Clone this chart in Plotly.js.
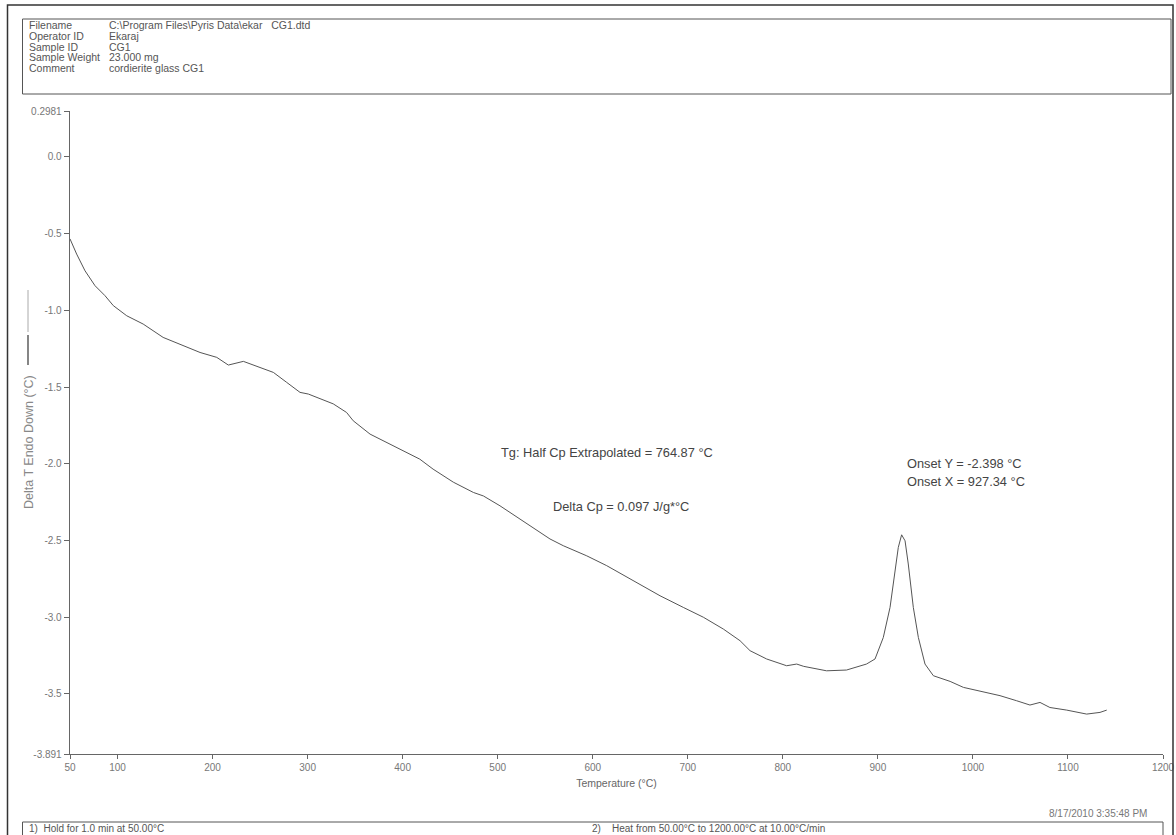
<!DOCTYPE html>
<html>
<head>
<meta charset="utf-8">
<script src="https://cdn.plot.ly/plotly-3.0.1.min.js"></script>
<style>
html,body{margin:0;padding:0;background:#fff;}
#chart{width:1176px;height:835px;}
</style>
</head>
<body>
<div id="chart"></div>
<script>
// ---- data ----
const temperatureC = [50, 57, 65.8, 76.3, 86.8, 95.6, 109.7, 127, 148, 165.7, 186.8, 204.4, 216.6, 232.4, 250, 264, 278, 292, 300.8, 309.6, 327, 341, 348, 365.7, 383, 404, 418, 432, 453.3, 474.4, 485, 502.4, 523.5, 544.5, 555, 569, 593.7, 614.7, 642.7, 670.8, 695.3, 716.4, 737.4, 755, 765.5, 783, 804, 814.6, 822, 835.6, 846, 867, 888, 897, 905.7, 912.8, 918, 921.5, 925, 928.6, 932, 937.3, 942.6, 949.6, 958.4, 976, 990, 1011, 1028.5, 1046, 1060, 1070.6, 1081, 1098.7, 1119.7, 1133.7, 1140.8];
const deltaT = [-0.535, -0.634, -0.743, -0.84, -0.905, -0.97, -1.036, -1.09, -1.177, -1.22, -1.275, -1.307, -1.357, -1.333, -1.373, -1.405, -1.47, -1.535, -1.546, -1.568, -1.61, -1.666, -1.72, -1.807, -1.861, -1.926, -1.97, -2.035, -2.12, -2.187, -2.21, -2.274, -2.36, -2.448, -2.49, -2.534, -2.6, -2.664, -2.762, -2.86, -2.936, -3.0, -3.077, -3.153, -3.218, -3.272, -3.316, -3.305, -3.32, -3.338, -3.349, -3.344, -3.305, -3.272, -3.132, -2.936, -2.697, -2.545, -2.463, -2.502, -2.653, -2.936, -3.132, -3.305, -3.381, -3.418, -3.457, -3.485, -3.511, -3.544, -3.572, -3.555, -3.588, -3.605, -3.631, -3.62, -3.605];

const xTickVals = [50, 100, 200, 300, 400, 500, 600, 700, 800, 900, 1000, 1100, 1200];
const xTickText = ['50', '100', '200', '300', '400', '500', '600', '700', '800', '900', '1000', '1100', '1200'];
const yTickVals = [0.2981, 0.0, -0.5, -1.0, -1.5, -2.0, -2.5, -3.0, -3.5, -3.891];
const yTickText = ['0.2981', '0.0', '-0.5', '-1.0', '-1.5', '-2.0', '-2.5', '-3.0', '-3.5', '-3.891'];

const headerLabels = ['Filename', 'Operator ID', 'Sample ID', 'Sample Weight', 'Comment'];
const headerValues = ['C:\\Program Files\\Pyris Data\\ekar   CG1.dtd', 'Ekaraj', 'CG1', '23.000 mg', 'cordierite glass CG1'];

// ---- layout helpers (pixel -> paper) ----
const W = 1176, H = 835;
const L = 70, R = 13, T = 111, B = 81;
const PW = W - L - R, PH = H - T - B;
const px = v => (v - L) / PW;
const py = v => (H - B - v) / PH;

const txt = '#555';
const FONT = 'Liberation Sans, Arial, sans-serif';

const annotations = [];
headerLabels.forEach((lab, i) => {
  const y = 25 + i * 10.8;
  annotations.push({xref:'paper', yref:'paper', x:px(27), y:py(y), text:lab, showarrow:false, xanchor:'left', yanchor:'middle', font:{family:FONT, size:10.5, color:txt}});
  annotations.push({xref:'paper', yref:'paper', x:px(107), y:py(y), text:headerValues[i], showarrow:false, xanchor:'left', yanchor:'middle', font:{family:FONT, size:10.5, color:txt}});
});
annotations.push(
  {xref:'paper', yref:'paper', x:px(607), y:py(452), text:'Tg: Half Cp Extrapolated = 764.87 °C', showarrow:false, xanchor:'center', yanchor:'middle', font:{family:FONT, size:12.8, color:'#444'}},
  {xref:'paper', yref:'paper', x:px(621), y:py(506), text:'Delta Cp = 0.097 J/g*°C', showarrow:false, xanchor:'center', yanchor:'middle', font:{family:FONT, size:12.8, color:'#444'}},
  {xref:'paper', yref:'paper', x:px(905), y:py(463), text:'Onset Y = -2.398 °C', showarrow:false, xanchor:'left', yanchor:'middle', font:{family:FONT, size:12.8, color:'#444'}},
  {xref:'paper', yref:'paper', x:px(905), y:py(482), text:'Onset X = 927.34 °C', showarrow:false, xanchor:'left', yanchor:'middle', font:{family:FONT, size:12.8, color:'#444'}},
  {xref:'paper', yref:'paper', x:px(1149), y:py(813), text:'8/17/2010 3:35:48 PM', showarrow:false, xanchor:'right', yanchor:'middle', font:{family:FONT, size:10, color:'#777'}},
  {xref:'paper', yref:'paper', x:px(27), y:py(829), text:'1)  Hold for 1.0 min at 50.00°C', showarrow:false, xanchor:'left', yanchor:'middle', font:{family:FONT, size:10, color:txt}},
  {xref:'paper', yref:'paper', x:px(590), y:py(829), text:'2)    Heat from 50.00°C to 1200.00°C at 10.00°C/min', showarrow:false, xanchor:'left', yanchor:'middle', font:{family:FONT, size:10, color:txt}},
  {xref:'paper', yref:'paper', x:px(29), y:py(442), text:'Delta T Endo Down (°C)', textangle:-90, showarrow:false, xanchor:'center', yanchor:'middle', font:{family:FONT, size:12.5, color:'#888'}}
);

const shapes = [
  // outer frame
  {type:'rect', xref:'paper', yref:'paper', x0:px(7.5), x1:px(1173), y0:py(5), y1:py(836), line:{color:'#333', width:1.5}},
  // header box
  {type:'rect', xref:'paper', yref:'paper', x0:px(22.5), x1:px(1171), y0:py(19), y1:py(94), line:{color:'#555', width:1}},
  // method box
  {type:'rect', xref:'paper', yref:'paper', x0:px(22.5), x1:px(1163), y0:py(822), y1:py(840), line:{color:'#555', width:1}},
  // legend line beside y title
  {type:'line', xref:'paper', yref:'paper', x0:px(28), x1:px(28), y0:py(290), y1:py(332), line:{color:'#aaa', width:1}},
  {type:'line', xref:'paper', yref:'paper', x0:px(28), x1:px(28), y0:py(335), y1:py(365), line:{color:'#444', width:1.3}}
];

const trace = {
  x: temperatureC,
  y: deltaT,
  type: 'scatter',
  mode: 'lines',
  line: {color: '#555', width: 1},
  hoverinfo: 'x+y',
  showlegend: false
};

const layout = {
  width: W, height: H,
  margin: {l: L, r: R, t: T, b: B, pad: 0},
  paper_bgcolor: '#fff', plot_bgcolor: '#fff',
  font: {family: FONT, color: txt, size: 10},
  showlegend: false,
  xaxis: {
    range: [50, 1200], tickvals: xTickVals, ticktext: xTickText,
    showgrid: false, zeroline: false, showline: true, linecolor: '#666', linewidth: 1.3,
    ticks: 'outside', ticklen: 4, tickcolor: '#666', tickfont: {family: FONT, size: 10, color: '#777'},
    title: {text: 'Temperature (°C)', font: {family: FONT, size: 10.5, color: '#666'}, standoff: 7}
  },
  yaxis: {
    range: [-3.891, 0.2981], tickvals: yTickVals, ticktext: yTickText,
    showgrid: false, zeroline: false, showline: true, linecolor: '#666', linewidth: 1.3,
    ticks: 'outside', ticklen: 5, tickcolor: '#666', tickfont: {family: FONT, size: 10, color: '#777'}
  },
  annotations: annotations,
  shapes: shapes
};

Plotly.newPlot('chart', [trace], layout, {displayModeBar: false, staticPlot: true});
</script>
</body>
</html>
